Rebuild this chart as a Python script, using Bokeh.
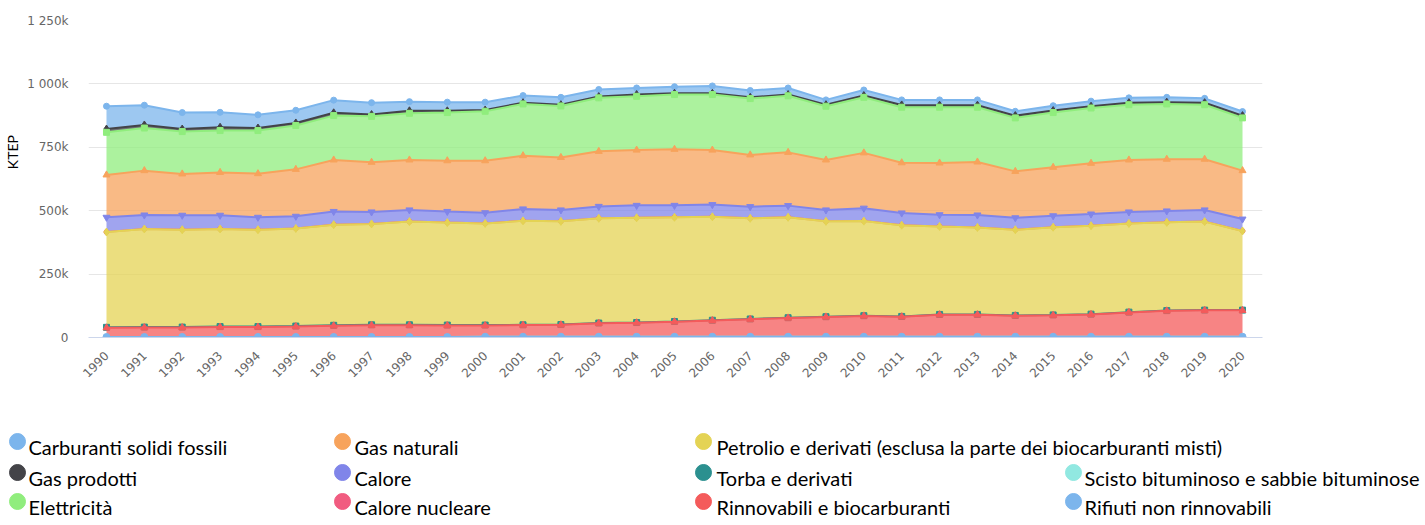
import math
from bokeh.plotting import figure
from bokeh.models import ColumnDataSource, FixedTicker, Range1d
from bokeh.transform import stack
from bokeh.core.properties import value
from bokeh.embed import file_html
from bokeh.resources import INLINE

# ---------------- data (thousands of KTEP) ----------------
years = [1990, 1991, 1992, 1993, 1994, 1995, 1996, 1997, 1998, 1999, 2000,
         2001, 2002, 2003, 2004, 2005, 2006, 2007, 2008, 2009, 2010,
         2011, 2012, 2013, 2014, 2015, 2016, 2017, 2018, 2019, 2020]

carburanti = [90, 78, 65, 59, 52, 50, 50, 47, 36, 34, 31, 28, 29, 28, 26, 26,
              29, 27, 26, 19, 22, 20, 21, 21, 17, 19, 20, 19, 19, 17, 16]
gas_prodotti = [13, 12, 10, 13, 10, 10, 11, 7, 10, 7, 5, 5, 5, 5, 7, 5,
                5, 5, 5, 6, 7, 9, 8, 8, 9, 8, 7, 8, 7, 8, 9]
elettricita = [168, 168, 167, 165, 170, 173, 175, 181, 184, 190, 195, 204, 203, 211, 212, 216,
               219, 222, 223, 212, 219, 219, 220, 216, 211, 216, 218, 218, 218, 215, 208]
gas_naturali = [167, 175, 163, 169, 172, 185, 203, 196, 197, 200, 205, 210, 207, 217, 218, 221,
                215, 204, 210, 197, 218, 198, 204, 209, 183, 191, 200, 205, 204, 200, 191]
calore = [58, 55, 57, 54, 49, 48, 52, 47, 46, 44, 42, 47, 45, 47, 49, 47,
          48, 46, 46, 45, 51, 48, 46, 49, 47, 45, 46, 45, 45, 46, 47]
calore_nucleare = [0, 0, 0, 0, 0, 0, 0, 0, 0, 0, 0, 0, 0, 0, 0, 0,
                   0, 0, 0, 0, 0, 0, 0, 0, 0, 0, 0, 0, 0, 0, 0]
petrolio = [376, 387, 384, 385, 382, 385, 397, 398, 407, 404, 401, 410, 407, 413, 413, 411,
            408, 397, 396, 376, 373, 360, 347, 343, 338, 346, 349, 350, 348, 349, 312]
torba = [2, 2, 2, 2, 2, 2, 2, 2, 2, 2, 2, 1, 1, 1, 1, 1,
         1, 1, 1, 1, 1, 1, 1, 1, 1, 1, 1, 1, 1, 1, 1]
rinnovabili = [36, 37, 37, 39, 39, 41, 44, 46, 46, 45, 44, 46, 47, 53, 55, 59,
               64, 69, 74, 78, 82, 79, 87, 87, 83, 85, 88, 96, 102, 104, 104]
scisto = [0, 0, 0, 0, 0, 0, 0, 0, 0, 0, 0, 0, 0, 0, 0, 0,
          0, 0, 0, 0, 0, 0, 0, 0, 0, 0, 0, 0, 0, 0, 0]
rifiuti = [2, 2, 2, 2, 2, 2, 2, 2, 2, 2, 3, 3, 3, 3, 3, 3,
           3, 3, 3, 3, 3, 3, 3, 3, 3, 3, 3, 3, 3, 3, 3]

# series in chart order (first = top of the stack, also legend order)
series_keys = ["carburanti", "gas_prodotti", "elettricita", "gas_naturali", "calore",
               "calore_nucleare", "petrolio", "torba", "rinnovabili", "scisto", "rifiuti"]
series_labels = ["Carburanti solidi fossili", "Gas prodotti", "Elettricità", "Gas naturali",
                 "Calore", "Calore nucleare",
                 "Petrolio e derivati (esclusa la parte dei  biocarburanti misti)",
                 "Torba e derivati", "Rinnovabili e biocarburanti",
                 "Scisto bituminoso e sabbie bituminose", "Rifiuti non rinnovabili"]

y_tick_values = [0, 250, 500, 750, 1000, 1250]
y_tick_labels = ["0", "250k", "500k", "750k", "1 000k", "1 250k"]
y_title = "KTEP"

# ---------------- styles ----------------
colors = ["#7cb5ec", "#434348", "#90ed7d", "#f7a35c", "#8085e9", "#f15c80",
          "#e4d354", "#2b908f", "#f45b5b", "#91e8e1", "#7cb5ec"]
markers = ["circle", "diamond", "square", "triangle", "inverted_triangle", "circle",
           "diamond", "square", "triangle", "inverted_triangle", "circle"]
marker_sizes = [6, 8, 6, 7, 7, 5, 8, 6, 7, 5, 7]

data = dict(year=years, carburanti=carburanti, gas_prodotti=gas_prodotti,
            elettricita=elettricita, gas_naturali=gas_naturali, calore=calore,
            calore_nucleare=calore_nucleare, petrolio=petrolio, torba=torba,
            rinnovabili=rinnovabili, scisto=scisto, rifiuti=rifiuti)
source = ColumnDataSource(data)

W = 1424
MH = 386
p = figure(width=W, height=MH,
           x_range=Range1d(1989.525, 2020.528), y_range=Range1d(0, 1250),
           output_backend="svg", toolbar_location=None,
           min_border_left=88, min_border_right=W - 1262,
           min_border_top=20, min_border_bottom=MH - 337)
p.outline_line_color = None
p.background_fill_color = "#ffffff"
p.xgrid.visible = False
p.ygrid.grid_line_color = "#e6e6e6"
p.ygrid.grid_line_width = 1

for i, key in enumerate(series_keys):
    below = series_keys[i + 1:]
    y_top = stack(*below, key)
    y_bot = stack(*below) if below else 0
    col = colors[i]
    p.varea(x="year", y1=y_bot, y2=y_top, source=source,
            fill_color=col, fill_alpha=0.75)
    p.line(x="year", y=y_top, source=source, line_color=col, line_width=2)
    p.scatter(x="year", y=y_top, source=source, marker=markers[i],
              size=marker_sizes[i], fill_color=col, line_color=col)

# y axis
p.yaxis.ticker = FixedTicker(ticks=y_tick_values)
p.yaxis.major_label_overrides = {v: s for v, s in zip(y_tick_values, y_tick_labels)}
p.yaxis.axis_line_color = None
p.yaxis.major_tick_line_color = None
p.yaxis.minor_tick_line_color = None
p.yaxis.major_tick_out = 0
p.yaxis.major_tick_in = 0
p.yaxis.major_label_standoff = 20
p.yaxis.major_label_text_color = "#666666"
p.yaxis.major_label_text_font = "DejaVu Sans"
p.yaxis.major_label_text_font_size = "12px"
# leading no-break spaces lift the title a little above the axis centre, as in the original
p.yaxis.axis_label = "\u00a0" * 15 + y_title
p.yaxis.axis_label_text_font = "Lato"
p.yaxis.axis_label_text_font_size = "14px"
p.yaxis.axis_label_text_font_style = "normal"
p.yaxis.axis_label_text_color = "#000000"
p.yaxis.axis_label_standoff = 3

# x axis
p.xaxis.ticker = FixedTicker(ticks=years)
p.xaxis.major_label_orientation = math.pi / 4
p.xaxis.axis_line_color = "#ccd6eb"
p.xaxis.axis_line_width = 1
p.xaxis.major_tick_line_color = None
p.xaxis.minor_tick_line_color = None
p.xaxis.major_tick_out = 0
p.xaxis.major_tick_in = 0
p.xaxis.major_label_standoff = 16
p.xaxis.major_label_text_color = "#666666"
p.xaxis.major_label_text_font = "DejaVu Sans"
p.xaxis.major_label_text_font_size = "12px"

# ---------------- legend (separate root figure, pixel coordinates) ----------------
LH = 135
col_circle_x = [17, 342, 703, 1073]
col_text_x = [28, 354, 716, 1084]
row_base_y = [60, 91, 120]
# (column, row) of each series' legend entry, same order as series_keys
legend_cells = [(0, 0), (0, 1), (0, 2), (1, 0), (1, 1), (1, 2),
                (2, 0), (2, 1), (2, 2), (3, 1), (3, 2)]

lsrc = ColumnDataSource(dict(
    cx=[col_circle_x[c] for c, r in legend_cells],
    cy=[row_base_y[r] - 5 for c, r in legend_cells],
    tx=[col_text_x[c] for c, r in legend_cells],
    ty=[row_base_y[r] for c, r in legend_cells],
    label=series_labels,
    color=colors,
))

lg = figure(width=W, height=LH, x_range=Range1d(0, W), y_range=Range1d(LH, 0),
            output_backend="svg", toolbar_location=None, min_border=0,
            x_axis_location=None, y_axis_location=None)
lg.outline_line_color = None
lg.xgrid.visible = False
lg.ygrid.visible = False
lg.scatter(x="cx", y="cy", source=lsrc, marker="circle", size=16,
           fill_color="color", line_color="color")
lg.text(x="tx", y="ty", text="label", source=lsrc, text_font=value("Lato"),
        text_font_size="20px", text_baseline="alphabetic", text_align="left",
        text_color="#000000")

open("out.html", "w").write(file_html((p, lg), INLINE))
